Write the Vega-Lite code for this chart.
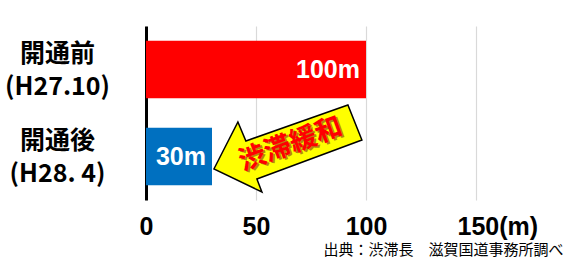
{
  "$schema": "https://vega.github.io/schema/vega-lite/v6.json",
  "width": 330,
  "height": 174,
  "autosize": {"type": "none"},
  "padding": {"left": 146, "top": 26, "right": 91, "bottom": 61},
  "background": "white",
  "config": {"view": {"stroke": null}},
  "data": {"values": [
    {"period": "開通前|(H27.10)", "length": 100, "label": "100m"},
    {"period": "開通後|(H28. 4)", "length": 30, "label": "30m"}
  ]},
  "encoding": {
    "y": {
      "field": "period", "type": "nominal", "sort": null,
      "scale": {"paddingInner": 0.34, "paddingOuter": 0.17},
      "axis": {
        "title": null, "ticks": false, "domainColor": "black", "domainWidth": 3,
        "labelExpr": "split(datum.label, '|')",
        "labelFont": "Noto Sans CJK JP", "labelFontWeight": "bold", "labelFontSize": 25,
        "labelLineHeight": 33, "labelAlign": "center", "labelBaseline": "middle",
        "labelOffset": -16,
        "labelPadding": 89, "labelColor": "black"
      }
    }
  },
  "layer": [
    {
      "mark": {"type": "bar"},
      "encoding": {
        "x": {
          "field": "length", "type": "quantitative",
          "scale": {"domain": [0, 150], "nice": false},
          "axis": {
            "values": [0, 50, 100, 150], "ticks": false, "domain": false,
            "gridColor": "#d9d9d9", "gridWidth": 1.2,
            "labelExpr": "datum.value == 150 ? '150(m)' : datum.label",
            "labelFont": "Liberation Sans", "labelFontWeight": "bold", "labelFontSize": 25,
            "labelColor": "black", "labelPadding": 14,
            "labelAlign": {"condition": {"test": "datum.value == 150", "value": "left"}, "value": "center"},
            "labelOffset": {"condition": {"test": "datum.value == 150", "value": -19}, "value": 0},
            "title": "出典：渋滞長　滋賀国道事務所調べ",
            "titleFont": "Noto Sans CJK JP", "titleFontWeight": "normal", "titleFontSize": 15,
            "titleColor": "black", "titleAnchor": "end", "titleAlign": "right",
            "titleX": 417, "titlePadding": 3
          }
        },
        "color": {
          "field": "period", "type": "nominal", "sort": null,
          "scale": {"range": ["#FF0000", "#0070C0"]}, "legend": null
        }
      }
    },
    {
      "mark": {"type": "text", "align": "right", "baseline": "middle", "dx": -6, "color": "white",
               "font": "Liberation Sans", "fontWeight": "bold", "fontSize": 25},
      "encoding": {
        "x": {"field": "length", "type": "quantitative"},
        "text": {"field": "label"}
      }
    },
    {
      "data": {"values": [{"period": "開通後|(H28. 4)", "pos": 64.5}]},
      "mark": {
        "type": "point", "filled": true, "fill": "#FFFF00", "stroke": "black", "strokeWidth": 1.5, "opacity": 1,
        "size": 25600,
        "shape": "M -0.925 0.156 L -0.625 -0.431 L -0.525 -0.194 L 0.75 -0.644 L 0.925 -0.206 L -0.3875 0.281 L -0.325 0.444 Z"
      },
      "encoding": {
        "x": {"field": "pos", "type": "quantitative"}
      }
    },
    {
      "data": {"values": [{"period": "開通後|(H28. 4)", "pos": 67.7, "note": "渋滞緩和"}]},
      "mark": {"type": "text", "align": "center", "baseline": "middle", "angle": 340, "dy": -10.5, "dx": 1.5,
               "color": "#7a1f1f", "opacity": 0.55, "font": "Noto Sans CJK JP", "fontWeight": "bold", "fontSize": 27},
      "encoding": {
        "x": {"field": "pos", "type": "quantitative"},
        "text": {"field": "note"}
      }
    },
    {
      "data": {"values": [{"period": "開通後|(H28. 4)", "pos": 67.7, "note": "渋滞緩和"}]},
      "mark": {"type": "text", "align": "center", "baseline": "middle", "angle": 340, "dy": -12.5,
               "color": "#FF0000", "font": "Noto Sans CJK JP", "fontWeight": "bold", "fontSize": 27},
      "encoding": {
        "x": {"field": "pos", "type": "quantitative"},
        "text": {"field": "note"}
      }
    }
  ]
}
